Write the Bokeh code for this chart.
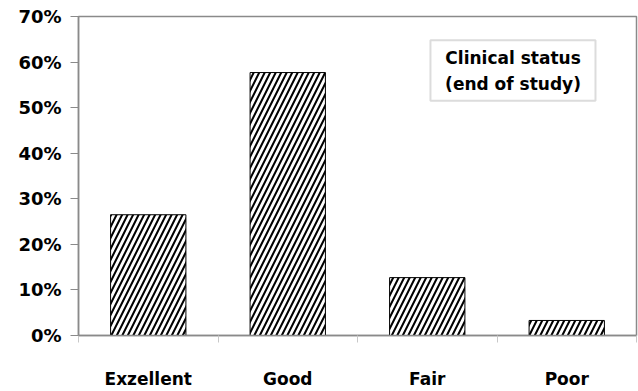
from bokeh.plotting import figure
from bokeh.models import FixedTicker, NumeralTickFormatter, Label, BoxAnnotation, Range1d
from bokeh.embed import file_html
from bokeh.resources import INLINE

categories = ["Exzellent", "Good", "Fair", "Poor"]
shares = [0.265, 0.577, 0.127, 0.033]
y_ticks = [0.0, 0.1, 0.2, 0.3, 0.4, 0.5, 0.6, 0.7]
legend_lines = ["Clinical status", "(end of study)"]

FONT = "DejaVu Sans"
GRAY = "#8a8a8a"

positions = [i + 0.5 for i in range(len(categories))]

p = figure(width=638, height=391, output_backend="svg", toolbar_location=None,
           x_range=Range1d(0, len(categories)), y_range=Range1d(0, 0.7),
           min_border_left=78, min_border_right=2, min_border_top=16, min_border_bottom=49)
p.background_fill_color = "white"
p.border_fill_color = "white"
p.outline_line_color = GRAY
p.outline_line_width = 1.5
p.xgrid.grid_line_color = None
p.ygrid.grid_line_color = None

p.vbar(x=positions, top=shares, width=0.54, bottom=0,
       fill_color="white", line_color="black", line_width=1,
       hatch_pattern="/", hatch_color="black", hatch_scale=11, hatch_weight=2)

# y axis
p.yaxis.ticker = FixedTicker(ticks=y_ticks)
p.yaxis.formatter = NumeralTickFormatter(format="0%")
p.yaxis.axis_line_color = GRAY
p.yaxis.axis_line_width = 1.5
p.yaxis.major_tick_line_color = GRAY
p.yaxis.major_tick_out = 8
p.yaxis.major_tick_in = 0
p.yaxis.minor_tick_line_color = None
p.yaxis.major_label_standoff = 9
p.yaxis.major_label_text_font = FONT
p.yaxis.major_label_text_font_style = "bold"
p.yaxis.major_label_text_font_size = "18px"
p.yaxis.major_label_text_color = "black"

# x axis
p.xaxis.ticker = FixedTicker(ticks=positions, minor_ticks=list(range(len(categories) + 1)))
p.xaxis.major_label_overrides = {pos: cat for pos, cat in zip(positions, categories)}
p.xaxis.axis_line_color = GRAY
p.xaxis.axis_line_width = 1.5
p.xaxis.major_tick_line_color = None
p.xaxis.major_tick_out = 0
p.xaxis.major_tick_in = 0
p.xaxis.minor_tick_line_color = "#c8c8c8"
p.xaxis.minor_tick_out = 7
p.xaxis.minor_tick_in = 0
p.xaxis.major_label_standoff = 26
p.xaxis.major_label_text_font = FONT
p.xaxis.major_label_text_font_style = "bold"
p.xaxis.major_label_text_font_size = "17px"
p.xaxis.major_label_text_color = "black"

# legend-like box
box = BoxAnnotation(left=2.523, right=3.706, bottom=0.515, top=0.648,
                    fill_color="white", fill_alpha=1.0, line_color=GRAY, line_width=2)
p.add_layout(box)
for txt, yy in zip(legend_lines, [0.61, 0.552]):
    p.add_layout(Label(x=3.115, y=yy, text=txt, text_align="center", text_baseline="middle",
                       text_font=FONT, text_font_style="bold", text_font_size="17px",
                       text_color="black"))

open("out.html", "w").write(file_html(p, INLINE))
